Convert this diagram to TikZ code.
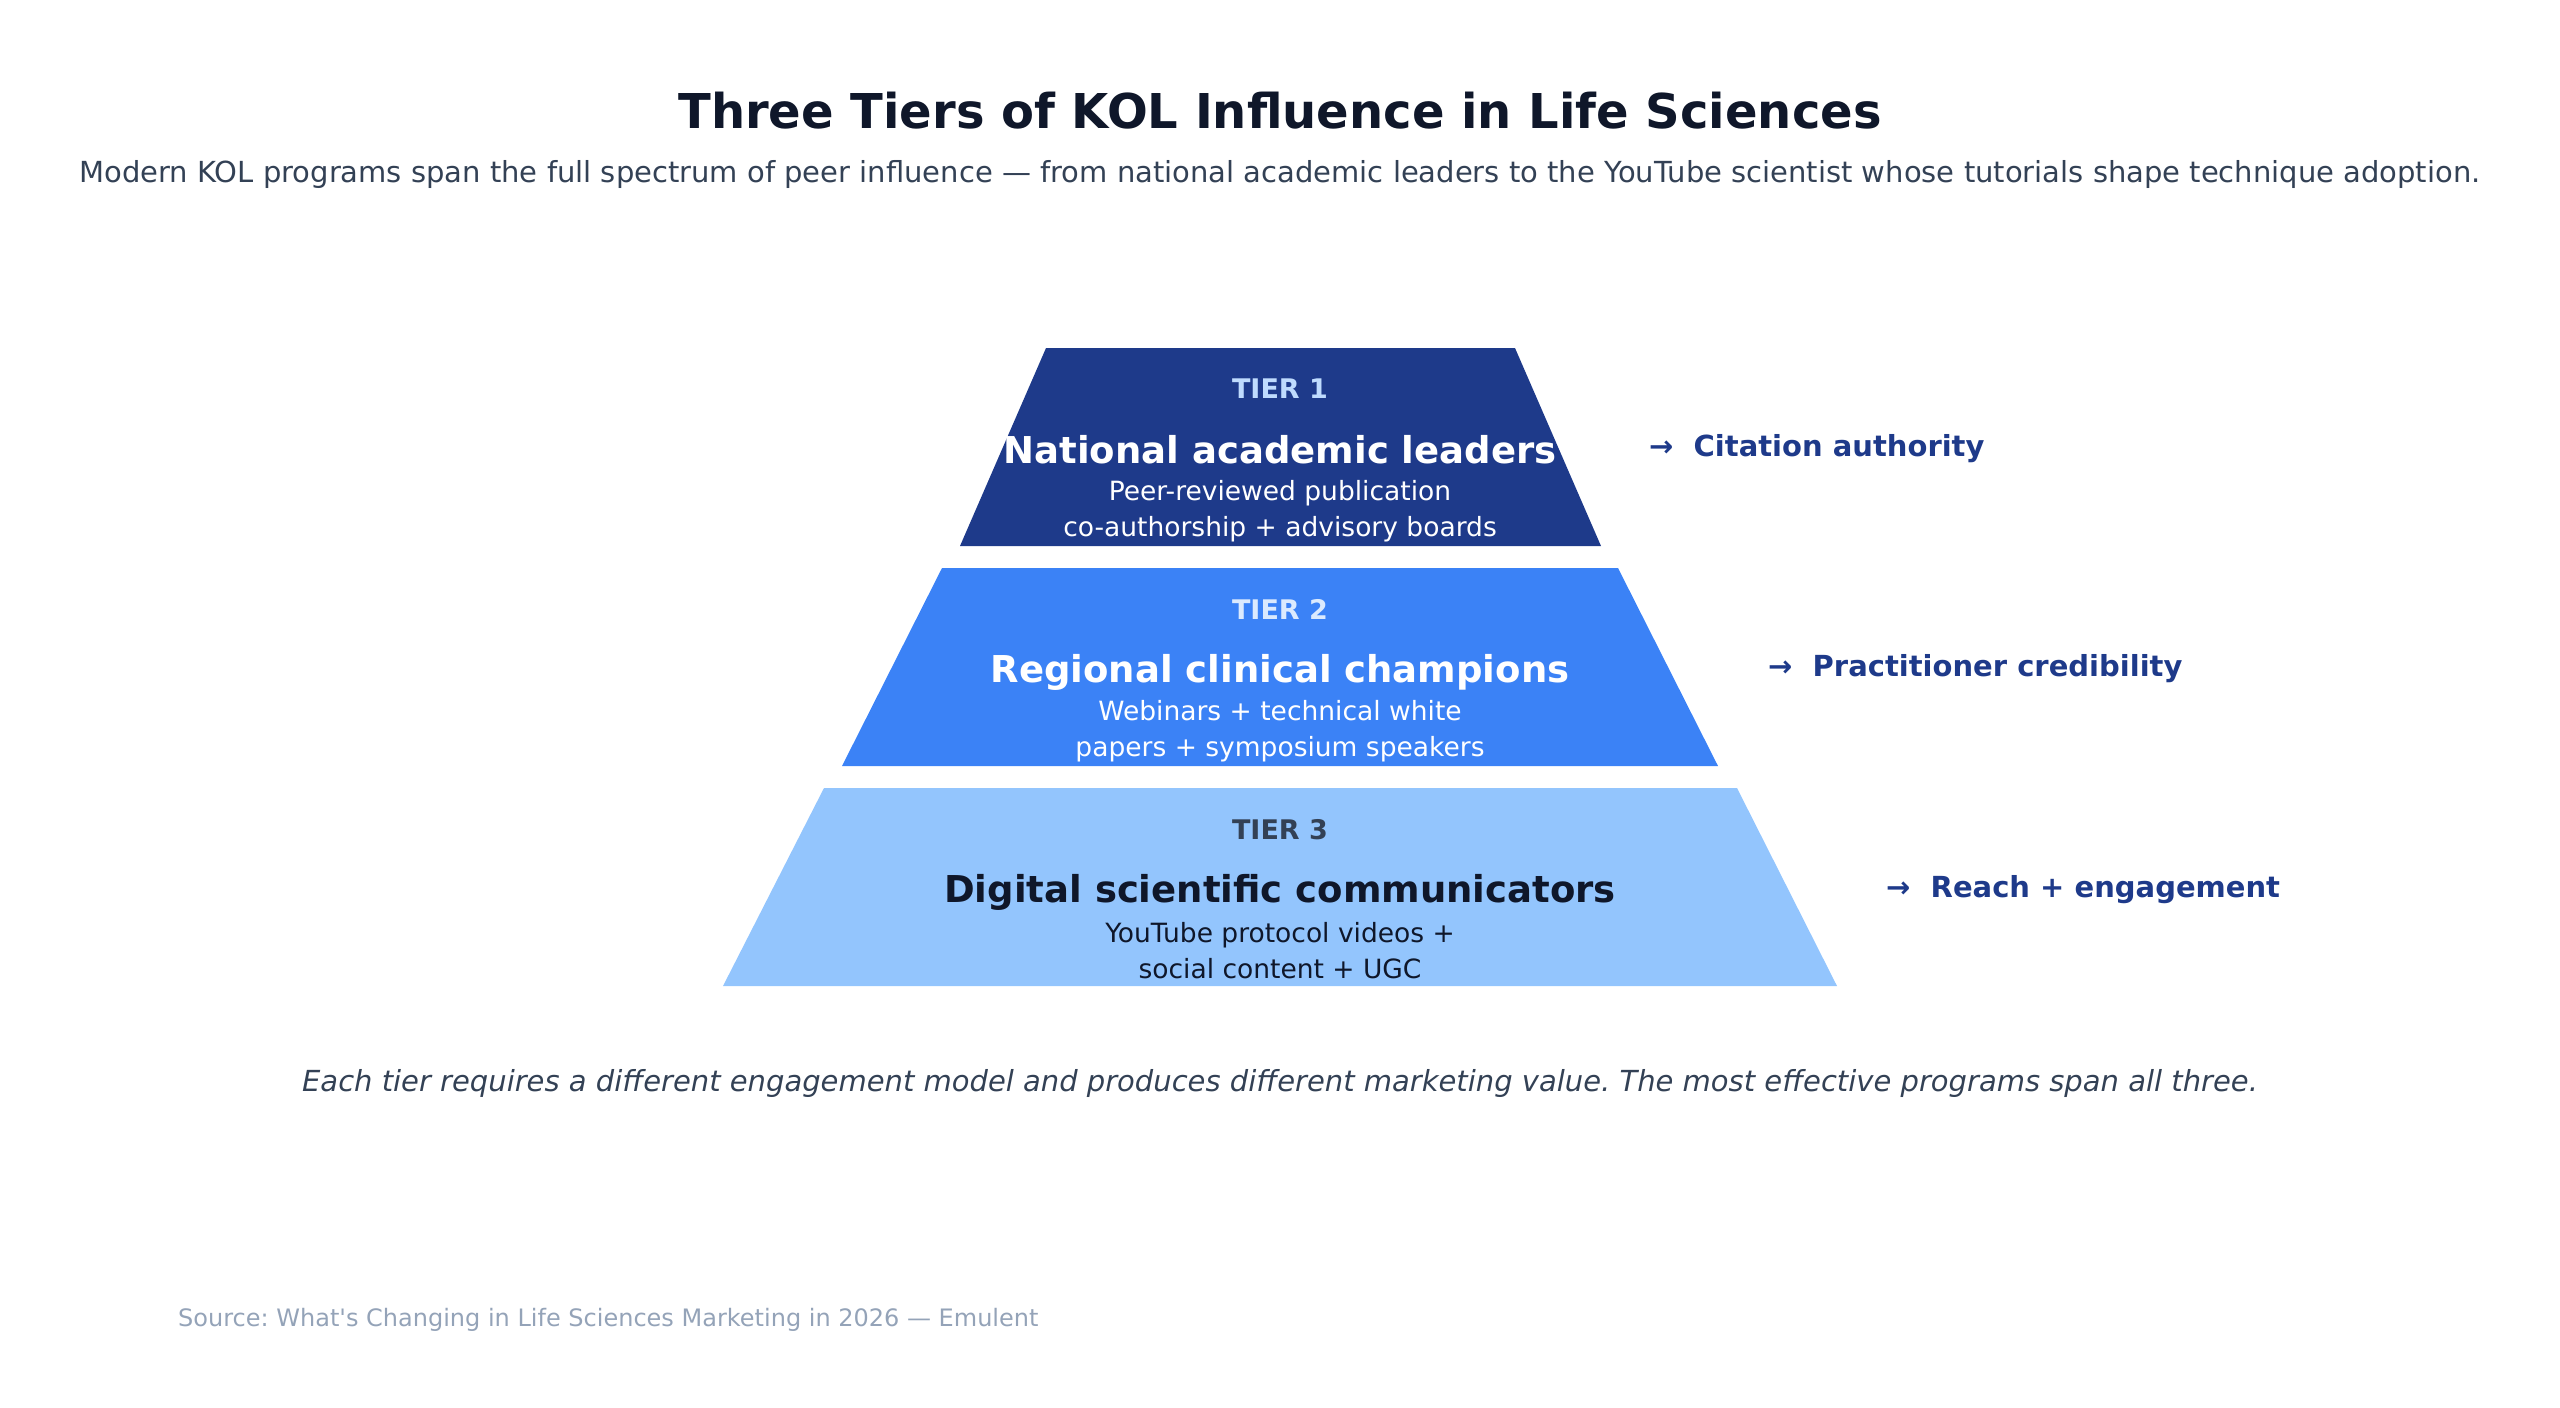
\documentclass[tikz,border=0pt]{standalone}
\usepackage{fontspec}
\setmainfont{DejaVu Sans}
\usepackage{tikz}
\usetikzlibrary{positioning}
\frenchspacing

\definecolor{tierA}{HTML}{1E3A8A}
\definecolor{tierB}{HTML}{3B82F6}
\definecolor{tierC}{HTML}{93C5FD}
\definecolor{inkdark}{HTML}{0F172A}
\definecolor{inkslate}{HTML}{334155}
\definecolor{inkgrey}{HTML}{94A3B8}
\definecolor{tagA}{HTML}{BFDBFE}
\definecolor{tagB}{HTML}{DBEAFE}

\tikzset{
    tiertag/.style={font=\fontsize{27}{32}\selectfont\bfseries},
    tiername/.style={font=\fontsize{37}{44}\selectfont\bfseries},
    tiernote/.style={font=\fontsize{26.5}{36}\selectfont, align=center},
    gainlabel/.style={anchor=west, text=tierA, font=\fontsize{29}{34}\selectfont\bfseries},
}

\begin{document}
\begin{tikzpicture}[x=1pt,y=-1pt,inner sep=0pt]
    \useasboundingbox (0,0) rectangle (2560,1408);

    \node[text=inkdark, font=\fontsize{48}{56}\selectfont\bfseries] (title) at (1280,111) {Three Tiers of KOL Influence in Life Sciences};
    \node[text=inkslate, font=\fontsize{29}{34}\selectfont] (subtitle) at (1280,174) {Modern KOL programs span the full spectrum of peer influence — from national academic leaders to the YouTube scientist whose tutorials shape technique adoption.};

    \fill[tierA] (1046,348) -- (1515,348) -- (1601,546) -- (960,546) -- cycle;
    \fill[tierB] (942,568) -- (1618,568) -- (1718,766) -- (842,766) -- cycle;
    \fill[tierC] (824,788) -- (1737,788) -- (1837,986) -- (723,986) -- cycle;

    \node[tiertag, text=tagA] (tag1) at (1280,389) {TIER 1};
    \node[tiername, text=white] (name1) at (1280,450) {National academic leaders};
    \node[tiernote, text=white] (note1) at (1280,511) {Peer-reviewed publication\\co-authorship + advisory boards};

    \node[tiertag, text=tagB] (tag2) at (1280,609) {TIER 2};
    \node[tiername, text=white] (name2) at (1280,672) {Regional clinical champions};
    \node[tiernote, text=white] (note2) at (1280,731) {Webinars + technical white\\papers + symposium speakers};

    \node[tiertag, text=inkslate] (tag3) at (1280,830) {TIER 3};
    \node[tiername, text=inkdark] (name3) at (1280,892) {Digital scientific communicators};
    \node[tiernote, text=inkdark] (note3) at (1280,951) {YouTube protocol videos +\\social content + UGC};

    \node[gainlabel] (gain1) at (1649,449) {→\ \ Citation authority};
    \node[gainlabel] (gain2) at (1768,669) {→\ \ Practitioner credibility};
    \node[gainlabel] (gain3) at (1886,890) {→\ \ Reach + engagement};

    \node[text=inkslate, font=\fontsize{29}{34}\selectfont\itshape] (footer) at (1280,1083) {Each tier requires a different engagement model and produces different marketing value. The most effective programs span all three.};
    \node[anchor=west, text=inkgrey, font=\fontsize{24}{30}\selectfont] (source) at (178,1320) {Source: What\textquotesingle s Changing in Life Sciences Marketing in 2026 — Emulent};
\end{tikzpicture}
\end{document}
